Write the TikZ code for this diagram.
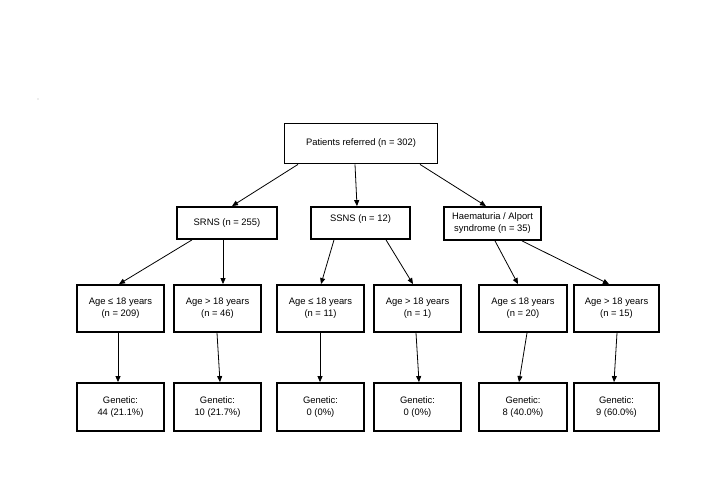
\documentclass[tikz,border=0pt]{standalone}
\usepackage{fontspec}
\setmainfont{Liberation Sans}
\usetikzlibrary{arrows.meta}
\begin{document}
\begin{tikzpicture}[x=1pt,y=-1pt,
  box/.style={draw=black, line width=1.8pt, rectangle, inner sep=0pt, align=center,
    font=\fontsize{9.4}{12}\selectfont},
  conn/.style={line width=0.8pt, -{Triangle[length=6pt,width=5pt]}}]
\useasboundingbox (0,0) rectangle (722,500);
\fill[gray!60] (38,99) circle (0.6);
% level 0
\node[box, minimum width=153pt, minimum height=40pt] (top) at (361,143.5) {Patients referred (n = 302)};
% level 1
\node[box, minimum width=100pt, minimum height=32pt] (srns) at (227,223) {SRNS (n = 255)};
\node[box, minimum width=99pt, minimum height=32pt, text height=6.8pt, text depth=10.4pt] (ssns) at (360.5,223) {SSNS (n = 12)};
\node[box, minimum width=97pt, minimum height=33pt] (haem) at (492.5,223.5) {Haematuria / Alport\\syndrome (n = 35)};
% level 2
\node[box, minimum width=87pt, minimum height=47pt] (a1) at (120.5,308.5) {Age ≤ 18 years\\(n = 209)};
\node[box, minimum width=87pt, minimum height=47pt] (a2) at (217.5,308.5) {Age > 18 years\\(n = 46)};
\node[box, minimum width=87pt, minimum height=47pt] (a3) at (320.5,308.5) {Age ≤ 18 years\\(n = 11)};
\node[box, minimum width=87pt, minimum height=47pt] (a4) at (417.5,308.5) {Age > 18 years\\(n = 1)};
\node[box, minimum width=88pt, minimum height=47pt] (a5) at (523,308.5) {Age ≤ 18 years\\(n = 20)};
\node[box, minimum width=85pt, minimum height=47pt] (a6) at (616.5,308.5) {Age > 18 years\\(n = 15)};
% level 3
\node[box, minimum width=87pt, minimum height=48pt] (g1) at (120.5,407) {Genetic:\\44 (21.1\%)};
\node[box, minimum width=87pt, minimum height=48pt] (g2) at (217.5,407) {Genetic:\\10 (21.7\%)};
\node[box, minimum width=87pt, minimum height=48pt] (g3) at (320.5,407) {Genetic:\\0 (0\%)};
\node[box, minimum width=87pt, minimum height=48pt] (g4) at (417.5,407) {Genetic:\\0 (0\%)};
\node[box, minimum width=88pt, minimum height=48pt] (g5) at (523,407) {Genetic:\\8 (40.0\%)};
\node[box, minimum width=85pt, minimum height=48pt] (g6) at (616.5,407) {Genetic:\\9 (60.0\%)};
% connectors level 0 -> 1
\draw[conn] ([xshift=-63pt]top.south) -- ([xshift=5pt]srns.north);
\draw[conn] ([xshift=-6pt]top.south) -- ([xshift=-3.5pt]ssns.north);
\draw[conn] ([xshift=59pt]top.south) -- ([xshift=-6.5pt]haem.north);
% level 1 -> 2
\draw[conn] ([xshift=-35pt]srns.south) -- ([xshift=-1.5pt]a1.north);
\draw[conn] ([xshift=-4pt]srns.south) -- ([xshift=5.5pt]a2.north);
\draw[conn] ([xshift=-26.5pt]ssns.south) -- ([xshift=0.5pt]a3.north);
\draw[conn] ([xshift=25.5pt]ssns.south) -- ([xshift=-4.5pt]a4.north);
\draw[conn] ([xshift=2.5pt]haem.south) -- ([xshift=-5pt]a5.north);
\draw[conn] ([xshift=29.5pt]haem.south) -- ([xshift=-7.5pt]a6.north);
% level 2 -> 3
\draw[conn] ([xshift=-2.5pt]a1.south) -- ([xshift=-2.5pt]g1.north);
\draw[conn] ([xshift=-0.5pt]a2.south) -- ([xshift=2.5pt]g2.north);
\draw[conn] ([xshift=-0.5pt]a3.south) -- ([xshift=-0.5pt]g3.north);
\draw[conn] ([xshift=-1.5pt]a4.south) -- ([xshift=1.5pt]g4.north);
\draw[conn] ([xshift=4pt]a5.south) -- ([xshift=-4pt]g5.north);
\draw[conn] ([xshift=0.5pt]a6.south) -- ([xshift=-2.5pt]g6.north);
\end{tikzpicture}
\end{document}
